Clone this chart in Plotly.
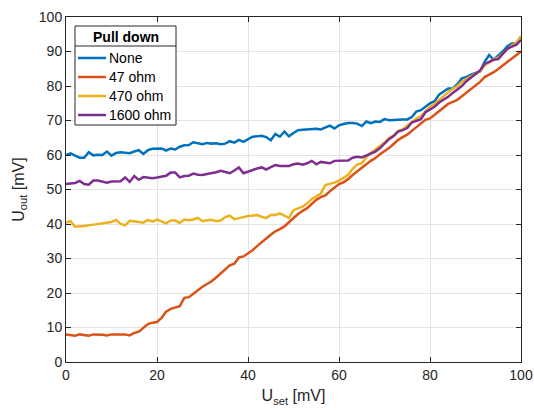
import plotly.graph_objects as go

# Set-point voltage sweep (mV)
u_set = list(range(0, 101))

# Measured output voltage (mV) for each pull-down resistor
u_none = [
    60.0, 60.5, 59.8, 59.2, 59.2, 60.8, 59.9, 60.1, 60.0, 61.0,
    59.8, 60.6, 60.8, 60.7, 60.5, 61.0, 61.4, 60.3, 61.4, 61.8,
    61.9, 61.9, 61.3, 61.9, 61.6, 62.4, 62.8, 62.9, 63.7, 63.4,
    63.1, 63.5, 63.3, 63.4, 63.1, 63.3, 64.0, 63.6, 64.4, 63.8,
    64.6, 65.3, 65.4, 65.6, 65.2, 64.3, 66.1, 65.3, 66.8, 65.4,
    66.4, 67.2, 67.3, 67.4, 67.6, 67.6, 67.4, 68.0, 68.5, 67.7,
    68.6, 69.0, 69.3, 69.3, 69.1, 68.4, 69.7, 69.2, 69.7, 69.6,
    70.4, 70.1, 70.2, 70.4, 70.3, 70.3, 71.0, 72.6, 73.0, 74.0,
    75.0, 75.6, 77.5, 78.4, 79.3, 79.3, 80.5, 82.2, 82.6, 83.3,
    83.8, 84.2, 87.0, 89.0, 87.6, 88.8, 90.0, 91.5, 92.3, 92.5,
    94.3,
]
u_47 = [
    8.0, 7.8, 7.6, 8.0, 7.9, 7.6, 8.0, 8.0, 7.9, 7.7,
    8.0, 8.0, 8.0, 8.0, 7.7, 8.4, 8.8, 10.0, 11.0, 11.4,
    11.6, 12.8, 14.6, 15.4, 15.7, 16.2, 18.6, 18.8, 19.8, 20.9,
    21.8, 22.6, 23.4, 24.5, 25.7, 27.0, 28.0, 28.5, 30.3, 30.6,
    31.4, 32.4, 33.6, 34.8, 35.8, 36.9, 37.9, 38.5, 39.3, 40.5,
    41.8, 42.9, 43.8, 44.6, 45.8, 47.0, 47.8, 48.3, 49.5, 50.5,
    51.6, 52.1, 53.0, 54.2, 55.3, 56.2, 57.3, 58.3, 59.1, 60.2,
    61.0, 62.0, 63.2, 64.4, 65.2, 65.9, 67.0, 68.0, 69.1, 70.2,
    70.6, 71.7, 72.8, 73.8, 74.8, 75.4, 76.0, 77.0, 78.0, 79.0,
    80.1, 81.2, 82.6, 83.2, 84.0, 84.9, 86.0, 87.0, 88.0, 89.0,
    90.0,
]
u_470 = [
    40.4, 40.8, 39.2, 39.2, 39.4, 39.6, 39.8, 39.9, 40.0, 40.3,
    40.6, 41.2, 40.0, 39.6, 40.9, 40.8, 40.6, 40.4, 41.2, 40.7,
    41.3, 40.8, 40.2, 41.0, 41.0, 40.3, 41.3, 41.1, 41.3, 41.8,
    40.8, 41.1, 41.2, 40.8, 41.0, 42.0, 42.4, 41.4, 41.8, 42.0,
    42.3, 42.5, 42.6, 42.1, 41.7, 42.6, 42.6, 43.1, 42.4, 41.8,
    44.0, 44.4, 45.0, 46.0, 47.2, 48.0, 48.8, 51.3, 51.6, 52.0,
    52.6, 53.3, 54.2, 56.0, 57.2, 57.6, 59.3, 60.6, 61.6, 62.6,
    63.6, 64.9, 65.6, 67.0, 67.4, 68.5, 69.6, 70.6, 71.3, 72.6,
    74.0, 74.8, 76.0, 77.0, 78.2, 79.2, 80.0, 81.2, 82.0, 83.0,
    83.6, 84.2, 86.0, 86.8, 87.8, 88.2, 89.4, 90.8, 91.8, 92.6,
    94.4,
]
u_1600 = [
    51.6, 51.8, 51.9, 52.5, 51.6, 51.4, 52.6, 52.6, 52.2, 52.0,
    52.3, 52.4, 52.4, 53.5, 52.2, 53.9, 52.8, 53.6, 53.5, 53.3,
    53.5, 53.7, 54.0, 54.9, 54.9, 53.5, 53.9, 54.0, 54.6, 54.3,
    54.2, 54.5, 54.7, 55.0, 55.4, 55.1, 54.7, 55.5, 56.4, 54.7,
    55.2, 55.7, 56.1, 56.4, 55.8, 56.5, 57.1, 56.8, 56.8, 56.8,
    57.3, 57.5, 57.2, 57.6, 58.3, 57.3, 58.0, 57.7, 57.6, 58.3,
    58.3, 58.3, 58.4, 59.2, 59.5, 59.3, 59.8, 60.3, 61.0, 62.0,
    63.2, 64.6, 65.5, 66.8, 67.2, 67.8, 69.4, 70.0, 70.4, 72.4,
    73.3, 74.0, 75.2, 76.0, 76.9, 78.0, 79.0, 80.0, 81.4, 82.5,
    83.5, 84.5, 86.4, 87.0, 87.6, 87.8, 89.4, 90.8, 91.4, 92.0,
    93.3,
]

series_names = ["None", "47 ohm", "470 ohm", "1600 ohm"]
series_values = [u_none, u_47, u_470, u_1600]
series_colors = ["#0072BD", "#D95319", "#EDB120", "#7E2F8E"]
legend_title = "Pull down"

x_ticks = [0, 20, 40, 60, 80, 100]
y_ticks = [0, 10, 20, 30, 40, 50, 60, 70, 80, 90, 100]

FONT = "Liberation Sans"
INK = "#262626"

# Figure geometry (pixels)
W, H = 534, 410
ML, MR, MT, MB = 66, 13, 17, 48
PW, PH = W - ML - MR, H - MT - MB


def px(xp):
    """Horizontal pixel position -> paper fraction."""
    return (xp - ML) / PW


def py(yp):
    """Vertical pixel position (from top) -> paper fraction."""
    return (H - MB - yp) / PH


fig = go.Figure()
for name, vals, col in zip(series_names, series_values, series_colors):
    fig.add_trace(go.Scatter(
        x=u_set, y=vals, name=name, mode="lines",
        line=dict(color=col, width=2.5),
        showlegend=False,
    ))

axis_common = dict(
    showline=True, linecolor=INK, linewidth=1, mirror="allticks",
    ticks="inside", ticklen=5, tickcolor=INK,
    showgrid=True, gridcolor="#E3E3E3", gridwidth=1,
    zeroline=False, automargin=False,
    tickfont=dict(family=FONT, size=14, color=INK),
)

fig.update_xaxes(
    range=[0, 100], tickvals=x_ticks,
    title=dict(text="U<sub>set</sub> [mV]", standoff=8,
               font=dict(family=FONT, size=16, color=INK)),
    **axis_common,
)
fig.update_yaxes(
    range=[0, 100], tickvals=y_ticks,
    title=dict(text="U<sub>out</sub> [mV]", standoff=10,
               font=dict(family=FONT, size=16, color=INK)),
    **axis_common,
)

# Legend box with a titled header, drawn as paper-space shapes and text
box_l, box_r, box_t, box_b = 75, 176, 26, 125
fig.add_shape(type="rect", xref="paper", yref="paper", layer="above",
              x0=px(box_l), x1=px(box_r), y0=py(box_b), y1=py(box_t),
              fillcolor="white", line=dict(color=INK, width=1))
fig.add_shape(type="line", xref="paper", yref="paper", layer="above",
              x0=px(box_l), x1=px(box_r), y0=py(46), y1=py(46),
              line=dict(color=INK, width=1))
fig.add_annotation(xref="paper", yref="paper", x=px((box_l + box_r) / 2), y=py(36.5),
                   text=f"<b>{legend_title}</b>", showarrow=False,
                   xanchor="center", yanchor="middle",
                   font=dict(family=FONT, size=14, color="#000000"))

row_y = [58, 77, 96, 115]
for name, col, ry in zip(series_names, series_colors, row_y):
    fig.add_shape(type="line", xref="paper", yref="paper", layer="above",
                  x0=px(78), x1=px(106), y0=py(ry), y1=py(ry),
                  line=dict(color=col, width=2.5))
    fig.add_annotation(xref="paper", yref="paper", x=px(107), y=py(ry),
                       text=name, showarrow=False,
                       xanchor="left", yanchor="middle",
                       font=dict(family=FONT, size=14, color="#000000"))

fig.update_layout(
    width=W, height=H,
    margin=dict(l=ML, r=MR, t=MT, b=MB),
    paper_bgcolor="white", plot_bgcolor="white",
    font=dict(family=FONT, color=INK),
    showlegend=False,
)

fig.write_html("out.html")
